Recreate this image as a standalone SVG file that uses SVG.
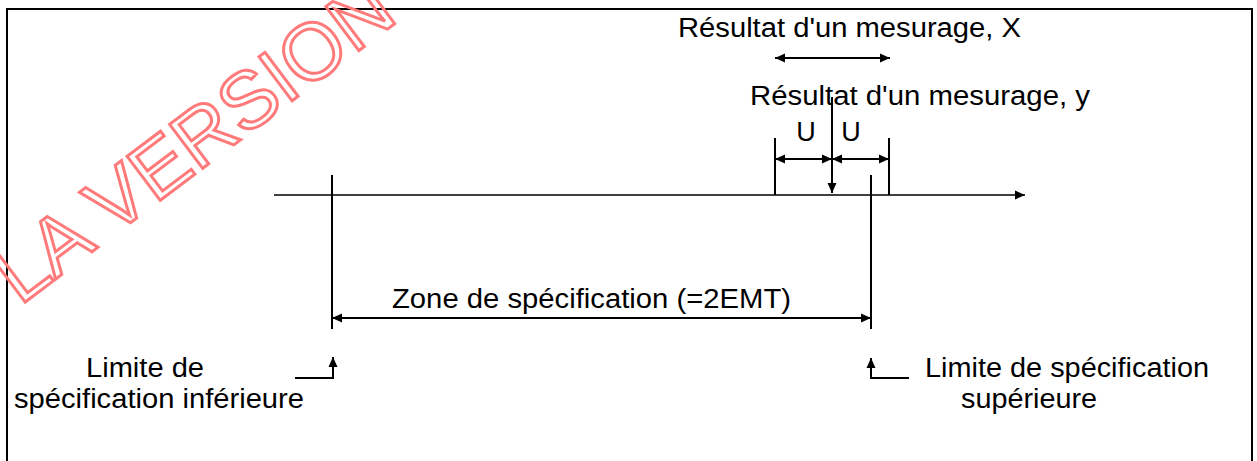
<svg xmlns="http://www.w3.org/2000/svg" width="1257" height="461" viewBox="0 0 1257 461">
  <style>
    .ln { stroke: #000; stroke-width: 2; fill: none; }
    .ax { stroke: #000; stroke-width: 1.6; fill: none; }
    .lbl { font-family: "Liberation Sans", Arial, sans-serif; font-size: 27px; fill: #000; }
    .wm { font-family: "Liberation Sans", Arial, sans-serif; font-size: 80px; fill: none; stroke: #ff7b7b; stroke-width: 3; }
  </style>
  <defs>
    <marker id="ah" markerUnits="userSpaceOnUse" markerWidth="11" markerHeight="10" refX="10" refY="5" orient="auto-start-reverse">
      <path d="M0,0.5 L10,5 L0,9.5 z" fill="#000"/>
    </marker>
  </defs>
  <rect width="1257" height="461" fill="#fff"/>

  <!-- outer frame, open at the bottom edge -->
  <rect id="frame" x="7" y="9" width="1245" height="480" fill="none" stroke="#000" stroke-width="2"/>

  <!-- watermark -->
  <g id="watermark">
    <text class="wm" transform="translate(20,306) rotate(-37)">LA VERSION</text>
  </g>

  <!-- connectors -->
  <g id="connectors">
    <path id="axis" class="ax" d="M274,195 H1025" marker-end="url(#ah)"/>
    <path id="lsl" class="ln" d="M332,175 V329"/>
    <path id="usl" class="ln" d="M871,175 V329"/>
    <path id="zone-span" class="ln" d="M332,318 H871" marker-start="url(#ah)" marker-end="url(#ah)"/>
    <path id="x-span" class="ln" d="M775,58 H890" marker-start="url(#ah)" marker-end="url(#ah)"/>
    <path id="u-left-bound" class="ln" d="M775,138 V195"/>
    <path id="u-right-bound" class="ln" d="M889,138 V195"/>
    <path id="u-left" class="ln" d="M775,159 H832" marker-start="url(#ah)" marker-end="url(#ah)"/>
    <path id="u-right" class="ln" d="M832,159 H889" marker-start="url(#ah)" marker-end="url(#ah)"/>
    <path id="y-pointer" class="ln" d="M832,97 V193" marker-end="url(#ah)"/>
    <path id="lsl-pointer" class="ln" d="M295,378 H333 V357" marker-end="url(#ah)"/>
    <path id="usl-pointer" class="ln" d="M909,378 H871 V358" marker-end="url(#ah)"/>
  </g>

  <g id="label-x">
    <text class="lbl" x="678" y="37" textLength="343" lengthAdjust="spacingAndGlyphs">Résultat d'un mesurage, X</text>
  </g>
  <g id="label-y">
    <text class="lbl" x="750" y="105" textLength="340" lengthAdjust="spacingAndGlyphs">Résultat d'un mesurage, y</text>
  </g>
  <g id="label-u-left">
    <text class="lbl" x="806" y="141" text-anchor="middle">U</text>
  </g>
  <g id="label-u-right">
    <text class="lbl" x="851" y="141" text-anchor="middle">U</text>
  </g>
  <g id="label-zone">
    <text class="lbl" x="392" y="308" textLength="399" lengthAdjust="spacingAndGlyphs">Zone de spécification (=2EMT)</text>
  </g>
  <g id="label-lsl">
    <text class="lbl" x="86" y="377" textLength="118" lengthAdjust="spacingAndGlyphs">Limite de</text>
    <text class="lbl" x="14" y="408" textLength="290" lengthAdjust="spacingAndGlyphs">spécification inférieure</text>
  </g>
  <g id="label-usl">
    <text class="lbl" x="925" y="377" textLength="284" lengthAdjust="spacingAndGlyphs">Limite de spécification</text>
    <text class="lbl" x="961" y="408" textLength="136" lengthAdjust="spacingAndGlyphs">supérieure</text>
  </g>
</svg>
